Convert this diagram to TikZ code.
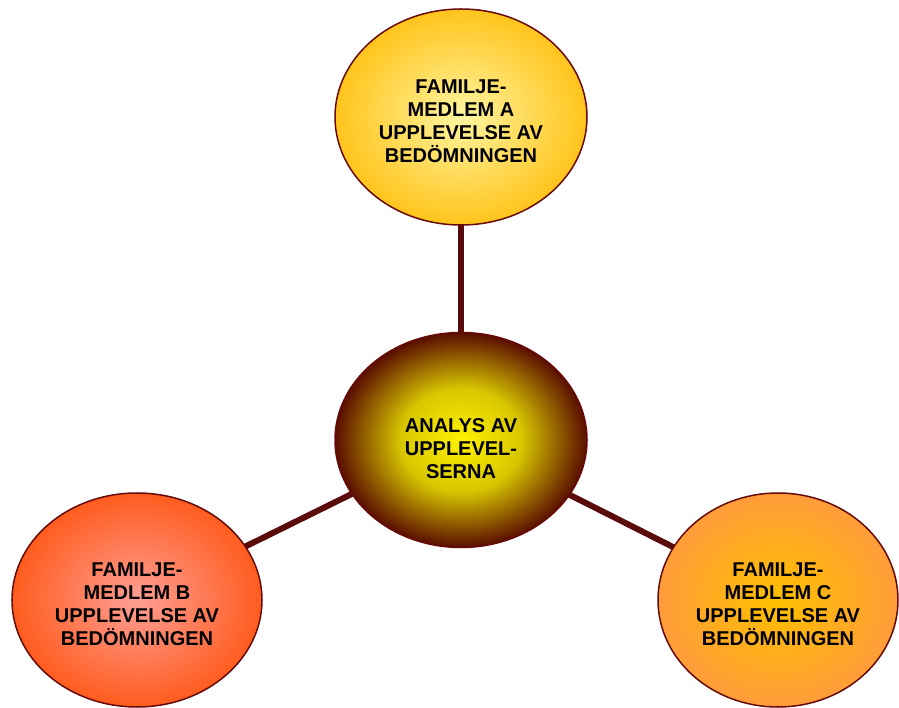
\documentclass[tikz,border=0pt]{standalone}
\usepackage{fontspec}
\setmainfont{Liberation Sans}
\usetikzlibrary{shapes.geometric, backgrounds}

\definecolor{rim}{HTML}{660A0A}
\definecolor{linkred}{HTML}{5A0C0C}
\definecolor{Ain}{HTML}{FFF5A0}
\definecolor{Aout}{HTML}{FFC41C}
\definecolor{Min}{HTML}{FFF200}
\definecolor{Mmid}{HTML}{D8C600}
\definecolor{Mout}{HTML}{5A0E00}
\definecolor{Bin}{HTML}{FF9E96}
\definecolor{Bout}{HTML}{FF5C1E}
\definecolor{Cin}{HTML}{FFC000}
\definecolor{Cout}{HTML}{FF9C3A}

\pgfdeclareradialshading{coreglow}{\pgfpoint{0bp}{0bp}}{%
  color(0bp)=(Min); color(12bp)=(Mmid); color(25bp)=(Mout); color(50bp)=(Mout)}

% extra room above the first line, pushes the text down a little
\newcommand{\padtop}[1]{\rule{0pt}{#1}}

\begin{document}
\begin{tikzpicture}[x=1pt, y=1pt,
  bubble/.style={ellipse, draw=rim, line width=1.5pt, inner sep=0pt,
    align=center, font=\bfseries\fontsize{20}{23}\selectfont},
  link/.style={draw=linkred, line width=6pt}]
  \useasboundingbox (0,0) rectangle (899,707);

  % the four bubbles
  \node [bubble, minimum width=252pt, minimum height=216pt,
    inner color=Ain, outer color=Aout] (famA) at (461,590)
    {\padtop{22pt}FAMILJE-\\MEDLEM A\\UPPLEVELSE AV\\BEDÖMNINGEN};
  \node [bubble, minimum width=252pt, minimum height=215pt,
    shading=coreglow] (analys) at (461,267)
    {\padtop{32pt}ANALYS AV\\UPPLEVEL-\\SERNA};
  \node [bubble, minimum width=250pt, minimum height=214pt,
    inner color=Bin, outer color=Bout] (famB) at (137,107)
    {\padtop{23pt}FAMILJE-\\MEDLEM B\\UPPLEVELSE AV\\BEDÖMNINGEN};
  \node [bubble, minimum width=240pt, minimum height=214pt,
    inner color=Cin, outer color=Cout] (famC) at (778,107)
    {\padtop{23pt}FAMILJE-\\MEDLEM C\\UPPLEVELSE AV\\BEDÖMNINGEN};

  % spokes behind the bubbles
  \begin{scope}[on background layer]
    \path [link] (analys.center) -- (famA.center);
    \path [link] (analys.center) -- (famB.center);
    \path [link] (analys.center) -- (famC.center);
  \end{scope}
\end{tikzpicture}
\end{document}
